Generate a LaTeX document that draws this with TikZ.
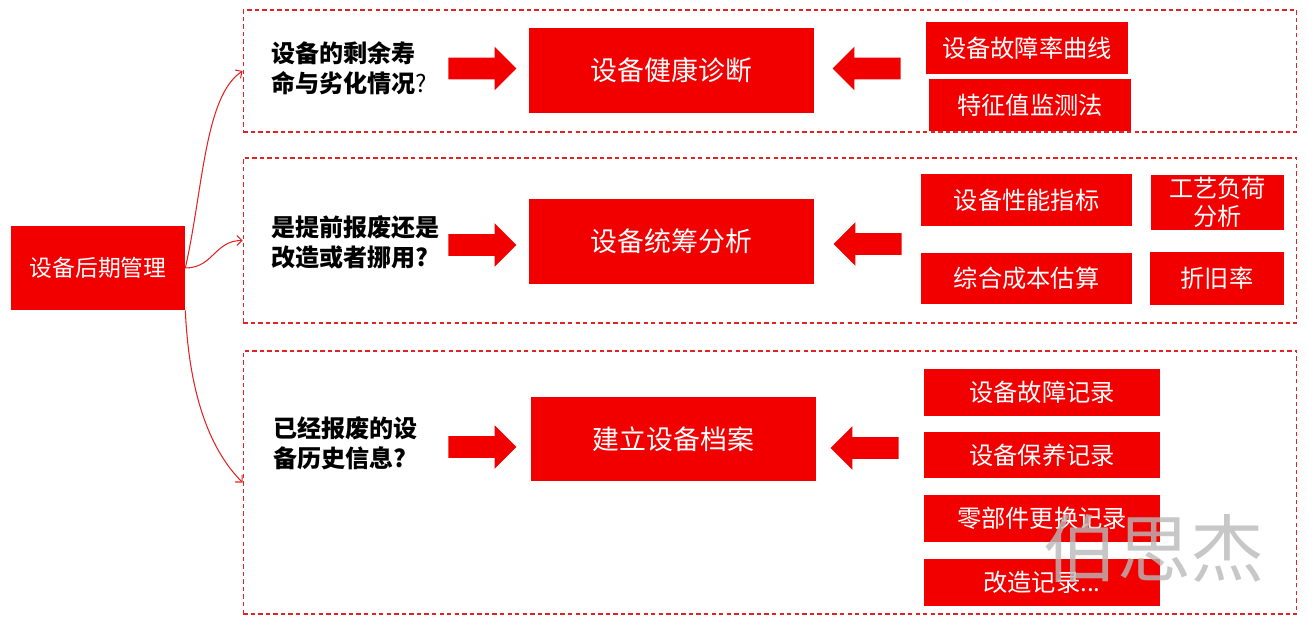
\documentclass[tikz,border=0pt]{standalone}
\usepackage{fontspec}
\setmainfont{Noto Sans CJK SC}
\usepackage{tikz}
\usetikzlibrary{arrows}
\usetikzlibrary{shapes.arrows}
\definecolor{boxred}{RGB}{242,0,0}
\definecolor{linered}{RGB}{225,35,35}

\begin{document}
\begin{tikzpicture}[>=angle 90, x=0.02cm, y=-0.02cm,
    box/.style={fill=boxred, text=white, inner sep=0pt, align=center},
    big/.style={box, minimum width=5.7cm, minimum height=1.7cm,
      font=\fontsize{15.3}{18}\selectfont},
    small/.style={box, font=\fontsize{13.8}{16.5}\selectfont},
    panel/.style={draw=linered, dash pattern=on 2.5pt off 1.8pt,
      line width=0.6pt, minimum width=21.08cm, inner sep=0pt},
    ask/.style={anchor=west, align=left, inner sep=0pt,
      font=\fontsize{13.7}{17}\selectfont\bfseries},
    fwd/.style={single arrow, fill=boxred, minimum height=1.36cm,
      minimum width=0.86cm, inner xsep=0pt, inner ysep=0.21cm,
      single arrow head extend=0.22cm},
    bwd/.style={fwd, shape border rotate=180},
    link/.style={->, linered, line width=0.6pt}]
    \useasboundingbox (0,0) rectangle (1307,624);
    \node[box, minimum width=3.48cm, minimum height=1.68cm,
      font=\fontsize{13}{16}\selectfont] (mgmt) at (98,268) {设备后期管理};
    \node[panel, minimum height=2.44cm] (p1) at (770,71) {};
    \node[panel, minimum height=3.3cm] (p2) at (770,240.5) {};
    \node[panel, minimum height=5.26cm] (p3) at (770,482.5) {};

    \node[ask] (q1) at (271,68) {设备的剩余寿\\命与劣化情况{\mdseries ?}};
    \node[ask] (q2) at (271,242.5) {是提前报废还是\\改造或者挪用?};
    \node[ask] (q3) at (273,443) {已经报废的设\\备历史信息?};

    \node[big] (diag) at (671.5,70.5) {设备健康诊断};
    \node[big] (plan) at (671.5,241.5) {设备统筹分析};
    \node[big] (arch) at (673.5,439) {建立设备档案};

    \node[fwd] (ar1) at (477,68.5) {};
    \node[fwd] (ar2) at (477,245) {};
    \node[fwd] (ar3) at (477,447) {};
    \node[bwd] (al1) at (872,68.5) {};
    \node[bwd] (al2) at (873,244) {};
    \node[bwd] (al3) at (870,448) {};

    \node[small, minimum width=4.04cm, minimum height=1.04cm] (fcurve) at (1027,48) {设备故障率曲线};
    \node[small, minimum width=4.04cm, minimum height=1.04cm] (feat) at (1030,105) {特征值监测法};
    \node[small, minimum width=4.22cm, minimum height=1.04cm] (perf) at (1026.5,200) {设备性能指标};
    \node[small, minimum width=2.66cm, minimum height=1.1cm,
      font=\fontsize{13.8}{16}\selectfont] (load) at (1217.5,202.5) {工艺负荷\\分析};
    \node[small, minimum width=4.22cm, minimum height=1.02cm] (cost) at (1026.5,278.5) {综合成本估算};
    \node[small, minimum width=2.68cm, minimum height=1.06cm] (depr) at (1217,278.5) {折旧率};
    \node[small, minimum width=4.72cm, minimum height=0.94cm] (frec) at (1042,392.5) {设备故障记录};
    \node[small, minimum width=4.72cm, minimum height=0.92cm] (mrec) at (1042,455) {设备保养记录};
    \node[small, minimum width=4.72cm, minimum height=0.94cm] (prec) at (1042,518.5) {零部件更换记录};
    \node[small, minimum width=4.72cm, minimum height=0.94cm] (rrec) at (1042,582.5) {改造记录...};

    \node[text=gray!55, opacity=0.8, font=\fontsize{42}{42}\selectfont] (mark) at (1154,548) {伯思杰};

    \draw[link] (mgmt.east) .. controls +(18,-80) and +(-38,25) .. (p1.west);
    \draw[link] (mgmt.east) .. controls +(28,0) and +(-28,0) .. (p2.west);
    \draw[link] (mgmt.south east) .. controls +(4,90) and +(-30,-30) .. (p3.west);
  \end{tikzpicture}
\end{document}
